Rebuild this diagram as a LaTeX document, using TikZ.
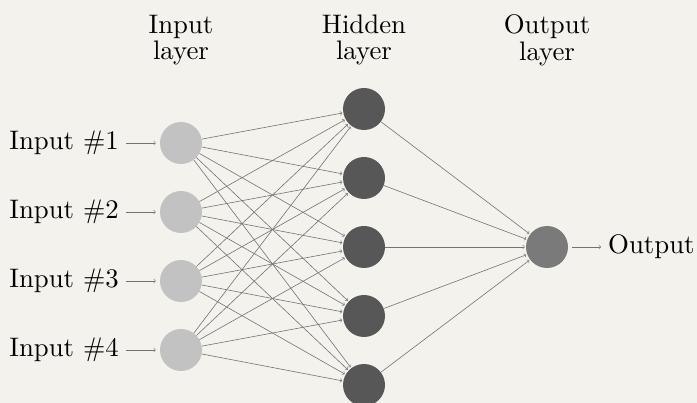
\documentclass[tikz,border=0pt]{standalone}
\definecolor{paper}{RGB}{244,242,237}
\begin{document}
\begin{tikzpicture}[x=1pt,y=-1pt,
    txt/.style={scale=2.68,inner sep=1pt,font=\fontsize{10}{10}\selectfont},
    neuron/.style={circle,minimum size=42pt,inner sep=0pt},
    inneuron/.style={neuron,fill=black!24},
    hidneuron/.style={neuron,fill=black!66},
    outneuron/.style={neuron,fill=black!52},
    edge/.style={->,draw=black!55,line width=0.6pt,shorten >=1pt},
    lab/.style={txt,align=center}]
  % page and background
  \fill[paper] (0,0) rectangle (697,403);
  \useasboundingbox (0,0) rectangle (697,403);
  \clip (0,0) rectangle (697,403);

  % input layer
  \foreach \i/\y in {1/143,2/212,3/281,4/350}{
    \node[inneuron] (I-\i) at (181,\y) {};
    \node[txt,anchor=east] (L-\i) at (122,\y) {Input \#\i};
    \draw[edge,shorten >=4pt,shorten <=4pt] (L-\i) -- (I-\i);
  }

  % hidden layer
  \foreach \j/\y in {1/109,2/178,3/247,4/316,5/385}{
    \node[hidneuron] (H-\j) at (364,\y) {};
  }

  % output layer
  \node[outneuron] (O) at (547,247) {};
  \node[txt,anchor=west] (Out) at (605,247) {Output};
  \draw[edge,shorten <=4pt,shorten >=4pt] (O) -- (Out);

  % connections
  \foreach \i in {1,...,4}
    \foreach \j in {1,...,5}
      \draw[edge] (I-\i) -- (H-\j);
  \foreach \j in {1,...,5}
    \draw[edge] (H-\j) -- (O);

  % layer captions
  \node[lab] (cap-in) at (181,40) {Input\\layer};
  \node[lab] (cap-hid) at (364,40) {Hidden\\layer};
  \node[lab] (cap-out) at (547,40) {Output\\layer};
\end{tikzpicture}
\end{document}
